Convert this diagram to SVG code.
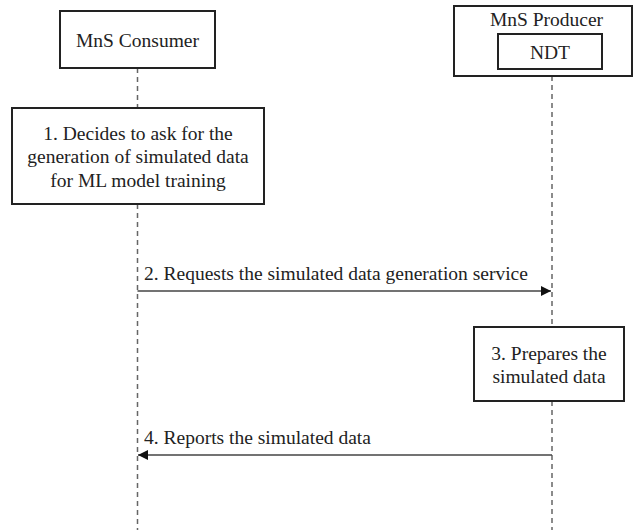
<svg xmlns="http://www.w3.org/2000/svg" width="634" height="530" viewBox="0 0 634 530">
<style>
.box{fill:#fff;stroke:#222;stroke-width:2}
.t{font-family:"Liberation Serif","Times New Roman",serif;font-size:19.5px;fill:#222}
.c{text-anchor:middle}
.life{stroke:#666;stroke-width:1.5;stroke-dasharray:5 4;fill:none}
.msg{stroke:#444;stroke-width:1.5;fill:none}
</style>
<defs>
<marker id="ah" viewBox="0 0 10 10" refX="10" refY="5" markerWidth="10" markerHeight="10" markerUnits="userSpaceOnUse" orient="auto">
<path d="M0,0 L10,5 L0,10 Z" fill="#111"/>
</marker>
</defs>
<g id="lifelines">
<line class="life" x1="137.5" y1="68" x2="137.5" y2="108"/>
<line class="life" x1="137.5" y1="204" x2="137.5" y2="530"/>
<line class="life" x1="552" y1="76" x2="552" y2="327"/>
<line class="life" x1="552" y1="401" x2="552" y2="530"/>
</g>
<g id="consumer">
<rect class="box" x="60" y="11" width="155" height="57"/>
<text class="t c" x="137.5" y="47">MnS Consumer</text>
</g>
<g id="producer">
<rect class="box" x="454" y="6" width="178" height="70"/>
<text class="t c" x="546.5" y="26">MnS Producer</text>
<g id="ndt">
<rect class="box" x="498" y="34" width="104" height="35"/>
<text class="t c" x="550" y="59">NDT</text>
</g>
</g>
<g id="step1">
<rect class="box" x="12" y="108" width="252" height="96"/>
<text class="t c" x="138" y="140">1. Decides to ask for the</text>
<text class="t c" x="138" y="163">generation of simulated data</text>
<text class="t c" x="138" y="187">for ML model training</text>
</g>
<g id="step3">
<rect class="box" x="474" y="327" width="150" height="74"/>
<text class="t c" x="549" y="360">3. Prepares the</text>
<text class="t c" x="549" y="383">simulated data</text>
</g>
<g id="connectors">
<line class="msg" x1="137.5" y1="291" x2="551" y2="291" marker-end="url(#ah)"/>
<text class="t" x="144" y="280">2. Requests the simulated data generation service</text>
<line class="msg" x1="552" y1="455" x2="138" y2="455" marker-end="url(#ah)"/>
<text class="t" x="144" y="444">4. Reports the simulated data</text>
</g>
</svg>
